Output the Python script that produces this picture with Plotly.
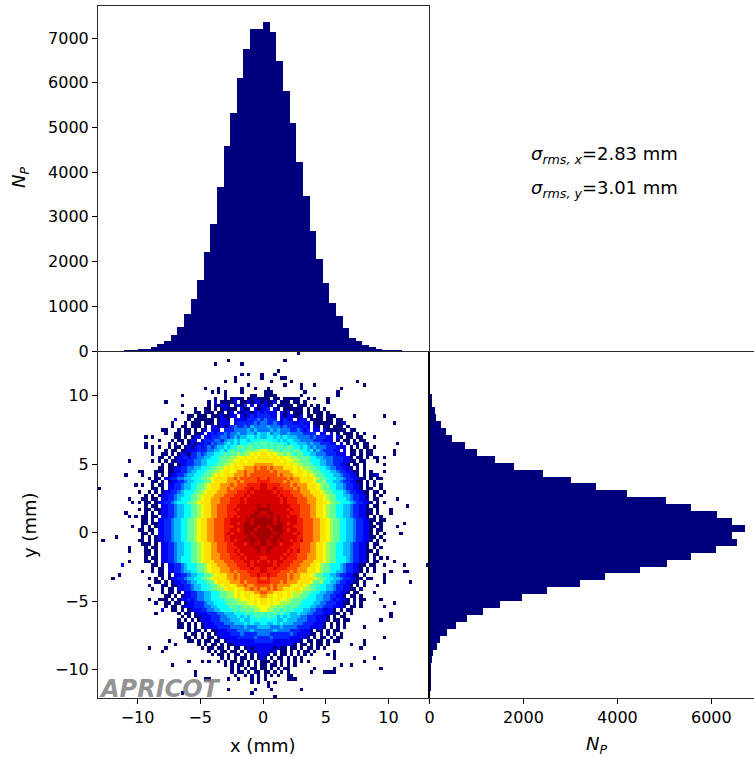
import plotly.graph_objects as go

# Counts per bin
x_hist_counts = [0,0,0,0,3,6,25,38,90,150,217,365,545,835,1155,1590,2220,2840,3670,4580,5330,6115,6765,7195,7195,
                 7350,7130,6480,5810,5110,4220,3475,2690,2060,1515,1075,775,515,290,217,128,85,30,10,4,2,0,0,0,0]
# y histogram, from the top bin downwards
y_hist_counts = [0,0,0,0,0,0,30,50,100,135,235,334,470,740,1010,1385,1790,2410,3010,3530,4200,5030,5560,6100,6430,
                 6700,6430,6525,6090,5560,5055,4465,3725,3195,2490,1960,1485,1130,795,547,370,220,150,70,50,20,20,10,5,0]

# Colour levels (hex digit) of the 2D histogram, one string per row from the top.
# Left and right of the centre column are split by "|", "." is an empty cell, spaces only separate groups.
density_rows = [
"|..........0",
"|",
"0..........|......0",
"0.......0......|",
"|",
"|....0",
"0.0...0|...0",
"0.......0|.....00",
"0..0........|..0.....0...................0",
"0....|......0....0...0..............0",
"0...0......0...0..|.0.........0...........0",
"0.0.0....0......|000.........0.........0",
"0............0.......00..|0000.......0..........0",
"0..0.0100.00100|00.00.00000..0.0...0",
"0............0.1.00001.0010110|1001.000.00.0......0",
"0.......0.00110.0102.1.01|101.00000.000.0.0",
"0..00.0.01000.100.101|12.10.000000.0.00.0",
"0...00.000.00.01.10110121|2111.101.000.0.000.0",
"00.000.00010011.1012122|2211.1011001.00.00.000.....0........0",
"1...0.000000.0110.111122232|3222.1211.111.0000.00.00",
"0...0.000.000.0111.122222323|32232122211211.000000.001..............0",
"0..00.000.0.1101012322324333|34333232222121.10.00.000.0",
"00...0.00.0.01.111.222333343433|33434333223212.11.1000000.00",
"0.. 00.00.00 1.1 2122 3233433 44354|45344 3343333 2222.11.1.0.000.0.0",
"0.0...... 00.0.01 1.1 122 23323 434455454|45545454 4433332322211.10.00.00...0",
"0... 0.00.01 1.1 222 3323 445455455 66|66 554545544 3333 222 111.0.00.0.00",
"0...... 0.0.0.0 101 121 3233 454545 566767|767666 545544 4343 322 211.1.0.00.00........0",
"0.0.0.. 0.00.0 101 212 323 44545 677677676|767677677 55454 3433 322 2111.0.0.00.0",
"0... 0.00.0 011 122 233 4454 67676787 889|988 77677677 5545 343 222 11.1.00.0.00......0",
"0.. 00.0.0 110 22 323 4455 6767 787 889a9a|a9a988 787677 5544 333 222 111.00.0.00......0",
"00.0.0 11 212 233 4455 67778 899a9a9aa|aa9a9a998 87777 5544 333 222 11 0.00.0.00.0",
"0......0. 0.0.00 11 122 334 4555 6778 899a9aaaaa|aaaaa9a998 8777 5554 433 222 11 00.00. ..0",
"0.00.0 11 22 334 455 6778 89a9aaaab bb|bb baaaa9a98 8777 554 433 22 11 0.00.0. ....0",
"00.00 11 22 334 455 6778 89a9aaab bbcbc|cbcbb baaa9a98 8776 554 33 22 11 0.0.0",
"00...0 00.00 11 22 34 455 6778 89aa9ab bcbbccc|ccbcbbb ba9aa98 8776 554 43 22 11 00.0.0 ...0",
"0....0... 0.0.0 11 22 34 455 6778 9a9aaab bbcbcccc|ccccbcbb baaa9a9 8776 554 43 22 11 0.0.0 01",
"0.00. 11 22 334 455 6778 9aaaab bcbcccccdc|cdcccccbcb baaaa9 8776 554 43 22 11 00.0.00",
"00.0.0 11 22 34 455 677 9aaaab bbcbcccc dd|dd ccccbcbb baaaa9 778 554 43 22 11 00.0.0",
"0.0.. 0.00. 11 22 34 455 778 9aaab bbcbccc dddde|edddd cccbcbb baaa9 877 554 43 22 11 0.0.0 .0",
"0............... 00.0. 11 22 34 455 778 9aaab bcbccc ddedde|eddedd cccbcb baaa9 877 554 43 22 11 0.00. .0",
"0.. 0.0.0 11 22 34 555 778 9aaab bbccc dddedeee|eeededdd cccbb baaa9 877 555 43 22 11 00.00 .0",
"0.0.0 11 22 34 455 778 9aaab bbccc dddedeeee|eeeededdd cccbb baaa9 877 554 43 22 11 0.0.0",
"0...0 0.00. 11 22 34 555 778 9aab bbccc dddedeeeee|eeeeededdd cccbb baa9 877 555 43 22 11 0.00. ....0",
"0. 0.00.0 11 22 34 555 778 9aaab bbccc dddedeeeee|eeeeededdd cccbb baaa9 877 555 43 22 11 0.0.0",
"0.00. 11 22 34 455 778 9aab bccc dddeeeee efe|efe eeeeeddd cccb baa9 877 554 43 22 11 0.00. .......0",
"0. 00.00 11 22 34 455 778 9aab bccc ddedeeee eff|ffe eeeededd cccb baa9 877 554 43 22 11 00.0. ..0",
"0..... 0.0.0 11 22 34 455 778 9aab bccc dddeeee effe|effe eeeeddd cccb baa9 877 554 43 22 11 00.0. ..0",
"0.0.0 0.00. 11 22 34 455 778 9aab bccc ddedee effef|fefef eedeed cccb baa9 877 554 43 22 11 0.0.0",
"00.0. 11 22 34 455 778 9aab bccc ddeeee efefff|fffefe eeeedd cccb baa9 877 554 43 22 11 00.00",
"00.00 11 22 34 455 778 9aab bccc ddeede ffefff|fffeff edeedd cccb baa9 877 554 43 22 11 0.00. .....0",
"0.. 0.0.0 11 22 34 455 778 9aab bccc dddeee ffffef|feffff eeeddd cccb baa9 877 554 43 22 11 00.0. ...0",
"0 0.00. 11 22 34 455 778 9aab bccc ddeede fffeff|ffefff edeedd cccb baa9 877 554 43 22 11 0.00.",
"00.0. 11 22 34 455 778 9aab bccc dedeee ffefff|fffeff eeeded cccb baa9 877 554 43 22 11 0.0.0 ....0",
"0....... 0.0.0 11 22 34 455 778 9aab bccc ddeeee effeff|ffeffe eeeedd cccb baa9 877 554 43 22 11 00.0.",
"0..........0 0.0.0 11 22 34 455 778 9aab bccc ddedee feffef|feffef eedede cccb baa9 877 554 43 22 11 0.0.0",
"0 00.0. 11 22 34 455 778 9aab bccc ddeeed efeef|feefe deeedd cccb baa9 877 554 43 22 11 0.00.",
"0.... 0.00. 11 22 34 455 778 9aab bccc dddeeee effe|effe eeeeddd cccb baa9 877 554 43 22 11 0.0.0",
"0.... 00.0. 11 22 34 455 778 9aab bccc ddedeeee efe|efe eeeedede cccb baa9 877 554 43 22 11 00.0.",
"00.0. 11 22 34 455 778 9aab bbccc ddedeeee ee|ee eeeededd cccbb baa9 877 554 43 22 11 0.00.",
"0.00. 11 22 34 555 778 9aab bbccc dddedeeeed|deeeededdd cccbb baa9 877 555 43 22 11 0.0.0 .0",
"0.... 00.0. 11 22 34 555 778 9aaab bbccc dddeedede|ededeeddd cccbb baaa9 877 555 43 22 11 0.00. ...0",
"1........ 00.0. 11 22 34 555 778 9aab bbccc dddedeee|eeededdd cccbb baa9 877 555 43 22 11 00.00 ..0 .....0 ......0",
"0.00. 11 22 34 555 778 9aaab bbccc dddedde|eddeddd cccbb baaa9 877 555 43 22 11 0.0.0",
"0.. 0.00. 11 22 34 455 778 9aaab bbcbccc dddde|edddd cccbcbb baaa9 877 554 43 22 11 0.0.0 ....0 ...00",
"0........... 00.0. 11 22 34 455 778 9aaab bcbccc dded|dedd cccbcb baaa9 877 554 43 22 11 00.0. ....0",
"0..........0. 0.0.0 11 22 34 455 778 9aaaab bcbcccccdc|cdcccccbcb baaaa9 877 554 43 22 11 00.00 ...0",
"00.0.0 11 22 34 455 677 9aaaab bbcbccc dd|dd cccbcbb baaaa9 778 554 43 22 11 00.0. ....0 .......0",
"0... 00.00 11 22 34 455 6778 9aa9ab bcbbccc|ccbcbbb ba9aa9 8776 554 43 22 11 0.0.0 ...0",
"0.. 0.00. 11 22 34 455 6778 89aa9aab bcbcb|bcbcb baa9aa98 8776 554 43 22 11 00.0.",
"0. 00.0. 11 22 334 455 6778 89a9aaab bc|cb baaa9a98a 8776 554 433 22 11 0.00. ...0",
"00.0.0 11 22 334 455 6778 89a9aa9aab|baa9aa9a98 8776 554 433 22 11 0.00.0",
"0..0 00.0.0 11 212 334 4555 67778 899a9a9a|a9a9a998 87776 5554 433 212 11 0.0.00 ....0",
"0..0 0.00.0 11 222 34 4555 67778 8899a9a|a9a9988 87776 5554 433 222 11 00.0.0 .........0",
"0.00.0 111 222 334 4555 67767878 899|998 87876776 5554 433 222 111 0.00.0 ......0",
"1.. 00.0.0 111 22 334 4555 6767 777 889|988 776767 5554 433 22 111 0.0.00",
"0...... 0.00.0 111 222 334 44555 676767|676767 554454 433 222 111 00.0.0 ...........0",
"0.0.00 111 222 334 445454 6676|6766 454544 433 222 111 0.0.00 .............0",
"0.0.0.0 111 222 3334 44544 5565|565544544 4333 222 111 0.00.00 .........0",
"00.0.0.0 111 222 3334 44545445|54454544 4333 222 111 0.0.0.0",
"00.0.0.0 1111 2222 3333433344|4433343333 2222 1111 0.0.0.0 .....0",
"0.00.0.00 111 222 33334333|33343333 222 111 0.00.0.00",
"0.00.0.0.0 1111 22232222 33|33 22222232 1111 00.0.0.0.0",
"00.0.0.00.0 11111 22222 322|223 22222 11111 0.0.00.0.00 ............0",
"0..... 00.0.00.00.0 11111111 222|222 11111111 0.00.00.0.00 .......0",
"0...... 0.0.00.0.00 111111111|111111111 0.00.0.00.0. .....0...0",
"0....0.......... 0.00.00.0.00.0 10111|11101 00.00.0.00.0.0 ..........0",
"0............. 0.0.00.00.0.01011|1101.00.0.0.00.0 .....0",
"0.00.0.00.0.0.01|10.0.00.0.0.0.0 ....0.0",
"0.0.0.00.0.01|0.0.00.0.0.0 .........0 ...........0",
"0...0.0 ..0.0.00.0.0.0.0|00.0.0.0.0.0.0 ................0",
"0............... 0.0.00.0.0.0|0.00.0.0.0 .............0 ..0",
"0.0.0.00.0|0.0.0.00 .......0 .....0 .............0",
"0.......... 0.00.0.00.|00.0.0.0 ......0 ...0000",
"0...........0..0.0.0.|0.0.0..00",
"00.....0..0...0.0.|0......000",
"0.0.|.0.0",
"|.0",
"0.......0..|..0........0",
"0....................0...|",
"|...0",
]

level_values = [0.0, 0.10, 0.16, 0.24, 0.31, 0.375, 0.41, 0.47, 0.54, 0.63, 0.67, 0.75, 0.83, 0.88, 0.93, 0.97]
jet = [[0, "#00007f"], [0.11, "#0000ff"], [0.125, "#0000ff"], [0.375, "#05ffff"], [0.5, "#7dff7a"],
       [0.64, "#fbff00"], [0.80, "#ff6800"], [0.91, "#f00000"], [1, "#7f0000"]]

x_ticks = [-10, -5, 0, 5, 10]
y_ticks = [-10, -5, 0, 5, 10]
n_ticks_y = [0, 1000, 2000, 3000, 4000, 5000, 6000, 7000]
n_ticks_x = [0, 2000, 4000, 6000]
x_range = [-13.15, 13.19]
y_range = [-12.08, 13.18]

def parse_row(row):
    left, right = row.replace(" ", "").split("|")
    cells = left.rjust(50, ".")[-50:] + right.ljust(50, ".")[:50]
    return [None if c == "." else level_values[int(c, 16)] for c in cells]

z = [parse_row(r) for r in density_rows][::-1]
dx = (x_range[1] - x_range[0]) / 100
dy = (y_range[1] - y_range[0]) / 100
NAVY = "#00007f"
W, H = 754, 757
FONT = "DejaVu Sans"
FS = 16
LS = 18

fig = go.Figure()
fig.add_trace(go.Heatmap(z=z, x0=x_range[0] + dx / 2, dx=dx, y0=y_range[0] + dy / 2, dy=dy,
                         colorscale=jet, zmin=0, zmax=1, showscale=False, hoverongaps=False,
                         xaxis="x", yaxis="y"))
fig.add_trace(go.Bar(x=[x_range[0] + (i + 0.5) * 2 * dx for i in range(50)], y=x_hist_counts,
                     width=2 * dx, marker=dict(color=NAVY, line=dict(width=0)), xaxis="x2", yaxis="y2"))
fig.add_trace(go.Bar(y=[y_range[1] - (i + 0.5) * 2 * dy for i in range(50)], x=y_hist_counts, orientation="h",
                     width=2 * dy, marker=dict(color=NAVY, line=dict(width=0)), xaxis="x3", yaxis="y3"))

ax = dict(showgrid=False, zeroline=False, showline=True, linecolor="#2b2b2b", linewidth=1, mirror=True, automargin=False,
          ticks="outside", ticklen=5, tickwidth=1, tickcolor="black", tickfont=dict(size=FS, family=FONT, color="black"))
dom_x = [98 / W, 428.5 / W]
dom_y = [(H - 698) / H, (H - 352) / H]

def label(text, px, py, size=LS, rot=0, color="black", anchor="center"):
    return dict(xref="paper", yref="paper", x=px / W, y=(H - py) / H, xanchor=anchor, yanchor="middle",
                showarrow=False, textangle=rot, text=text, font=dict(size=size, family=FONT, color=color))

fig.update_layout(
    width=W, height=H, margin=dict(l=0, r=0, t=0, b=0), paper_bgcolor="white", plot_bgcolor="white",
    showlegend=False, bargap=0, font=dict(family=FONT, size=FS, color="black"),
    xaxis=dict(ax, domain=dom_x, range=x_range, tickvals=x_ticks, anchor="y"),
    yaxis=dict(ax, domain=dom_y, range=y_range, tickvals=y_ticks, anchor="x"),
    xaxis2=dict(ax, domain=dom_x, range=x_range, ticks="", showticklabels=False, anchor="y2"),
    yaxis2=dict(ax, domain=[(H - 351) / H, (H - 6) / H], range=[0, 7717], tickvals=n_ticks_y, anchor="x2"),
    xaxis3=dict(ax, domain=[429.5 / W, 1], range=[0, 6908], tickvals=n_ticks_x, anchor="y3"),
    yaxis3=dict(ax, domain=dom_y, range=y_range, ticks="", showticklabels=False, anchor="x3", linewidth=2, linecolor="black"),
    annotations=[
        label("x (mm)", 263, 745),
        label("<i>N<sub>P</sub></i>", 596, 745),
        label("y (mm)", 29, 525, rot=-90),
        label("<i>N<sub>P</sub></i>", 20, 178, rot=-90),
        label("<i>σ</i><sub><i>rms, x</i></sub>=2.83 mm", 529, 155, anchor="left"),
        label("<i>σ</i><sub><i>rms, y</i></sub>=3.01 mm", 529, 189, anchor="left"),
        label("<b><i>APRICOT</i></b>", 97, 689, size=24, color="rgba(128,128,128,0.85)", anchor="left"),
    ],
)
fig.write_html("out.html", config={"displayModeBar": False}, post_script="document.body.style.margin='0';")
